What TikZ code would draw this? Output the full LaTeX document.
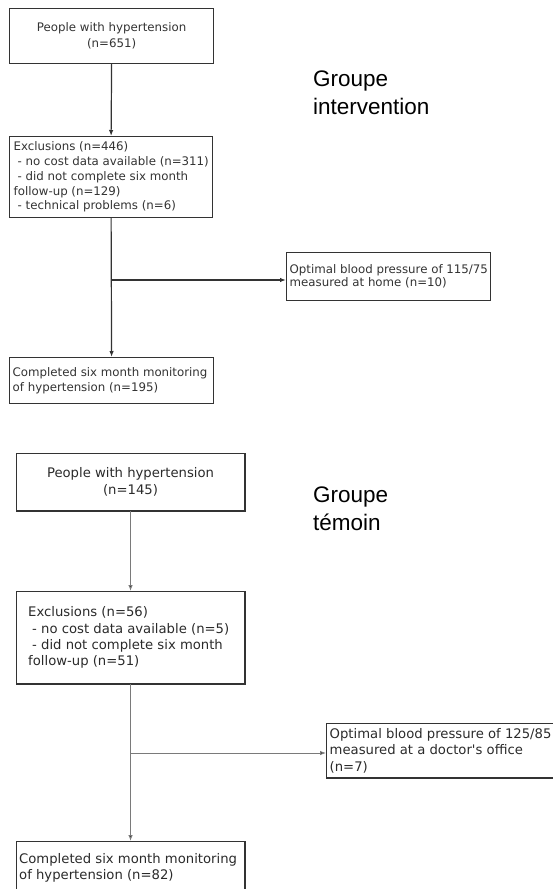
\documentclass[tikz,border=0pt]{standalone}
\usepackage{fontspec}
\setmainfont{DejaVu Sans}
\newfontfamily\titlefont{Liberation Sans}
\usetikzlibrary{arrows.meta}
\definecolor{topline}{HTML}{333333}
\definecolor{toptext}{HTML}{333333}
\definecolor{botline}{HTML}{7A7A7A}
\definecolor{botedge}{HTML}{333333}
\definecolor{bottext}{HTML}{2A2A2A}
\begin{document}
\begin{tikzpicture}[x=1pt,y=-1pt,
  topbox/.style={draw=topline, line width=1.2pt, inner sep=0pt, anchor=north west},
  toptxt/.style={text=toptext, font=\fontsize{11.8}{14.8}\selectfont, inner sep=0pt, align=left},
  botbox/.style={draw=botedge, line width=1.1pt, inner sep=0pt, anchor=north west},
  botshadow/.style={draw=botedge, line width=2pt},
  bottxt/.style={text=bottext, font=\fontsize{13.2}{16.4}\selectfont, inner sep=0pt, align=left},
  toparrow/.style={draw=topline, line width=1.2pt, -{Latex[length=6pt,width=4.5pt]}},
  botarrow/.style={draw=botline, line width=0.9pt, -{Latex[length=6pt,width=4.5pt,fill=botedge]}},
  grouptitle/.style={font=\titlefont\fontsize{22.5}{27.5}\selectfont, align=left, anchor=north west, inner sep=0pt, text=black}
]
\useasboundingbox (0,0) rectangle (553,889);
\clip (0,0) rectangle (553,889);

% ---------- Groupe intervention ----------
\node[topbox, minimum width=204pt, minimum height=55pt, align=center, text=toptext,
      font=\fontsize{11.8}{16}\selectfont] (b1) at (9,8) {People with hypertension\\(n=651)};
\node[topbox, minimum width=203pt, minimum height=81pt] (b2) at (9,136) {};
\node[toptxt, anchor=west] (t2) at ([xshift=4.5pt]b2.west)
  {Exclusions (n=446)\\\hspace*{4pt}- no cost data available (n=311)\\\hspace*{4pt}- did not complete six month\\follow-up (n=129)\\\hspace*{4pt}- technical problems (n=6)};
\node[topbox, minimum width=204pt, minimum height=48pt] (b3) at (286,252) {};
\node[toptxt, anchor=west, font=\fontsize{11.8}{12.8}\selectfont] (t3) at ([xshift=3.5pt]b3.west)
  {Optimal blood pressure of 115/75\\measured at home (n=10)};
\node[topbox, minimum width=204pt, minimum height=46pt] (b4) at (9,357) {};
\node[toptxt, anchor=west] (t4) at ([xshift=3.5pt]b4.west)
  {Completed six month monitoring\\of hypertension (n=195)};
\node[grouptitle] (g1) at (313,71) {Groupe\\intervention};

\coordinate (j1) at (111,280);
\draw[toparrow] (b1.south) -- (b2.north);
\draw[toparrow] (b2.south) -- (b4.north);
\draw[toparrow] (j1) -- (j1 -| b3.west);

% ---------- Groupe témoin ----------
\node[botbox, minimum width=228pt, minimum height=57pt, align=center, text=bottext,
      font=\fontsize{13.2}{17}\selectfont] (b5) at (16,453) {People with hypertension\\(n=145)};
\node[botbox, minimum width=228pt, minimum height=92pt] (b6) at (16,591) {};
\node[bottxt, anchor=west] (t6) at ([xshift=12pt]b6.west)
  {Exclusions (n=56)\\\hspace*{4pt}- no cost data available (n=5)\\\hspace*{4pt}- did not complete six month\\follow-up (n=51)};
\node[botbox, minimum width=232pt, minimum height=54pt] (b7) at (326,723) {};
\node[bottxt, anchor=west] (t7) at ([xshift=3.5pt]b7.west)
  {Optimal blood pressure of 125/85\\measured at a doctor\textquotesingle s office\\(n=7)};
\node[botbox, minimum width=228pt, minimum height=52pt] (b8) at (16,841) {};
\node[bottxt, anchor=west] (t8) at ([xshift=3pt]b8.west)
  {Completed six month monitoring\\of hypertension (n=82)};
\node[grouptitle] (g2) at (313,487) {Groupe\\témoin};

\foreach \b in {b5,b6,b7,b8}
  \draw[botshadow] (\b.north east) -- (\b.south east) -- (\b.south west);

\coordinate (j2) at (130,753);
\draw[botarrow] (b5.south) -- (b6.north);
\draw[botarrow] (b6.south) -- (b8.north);
\draw[botarrow] (j2) -- (j2 -| b7.west);
\end{tikzpicture}
\end{document}
